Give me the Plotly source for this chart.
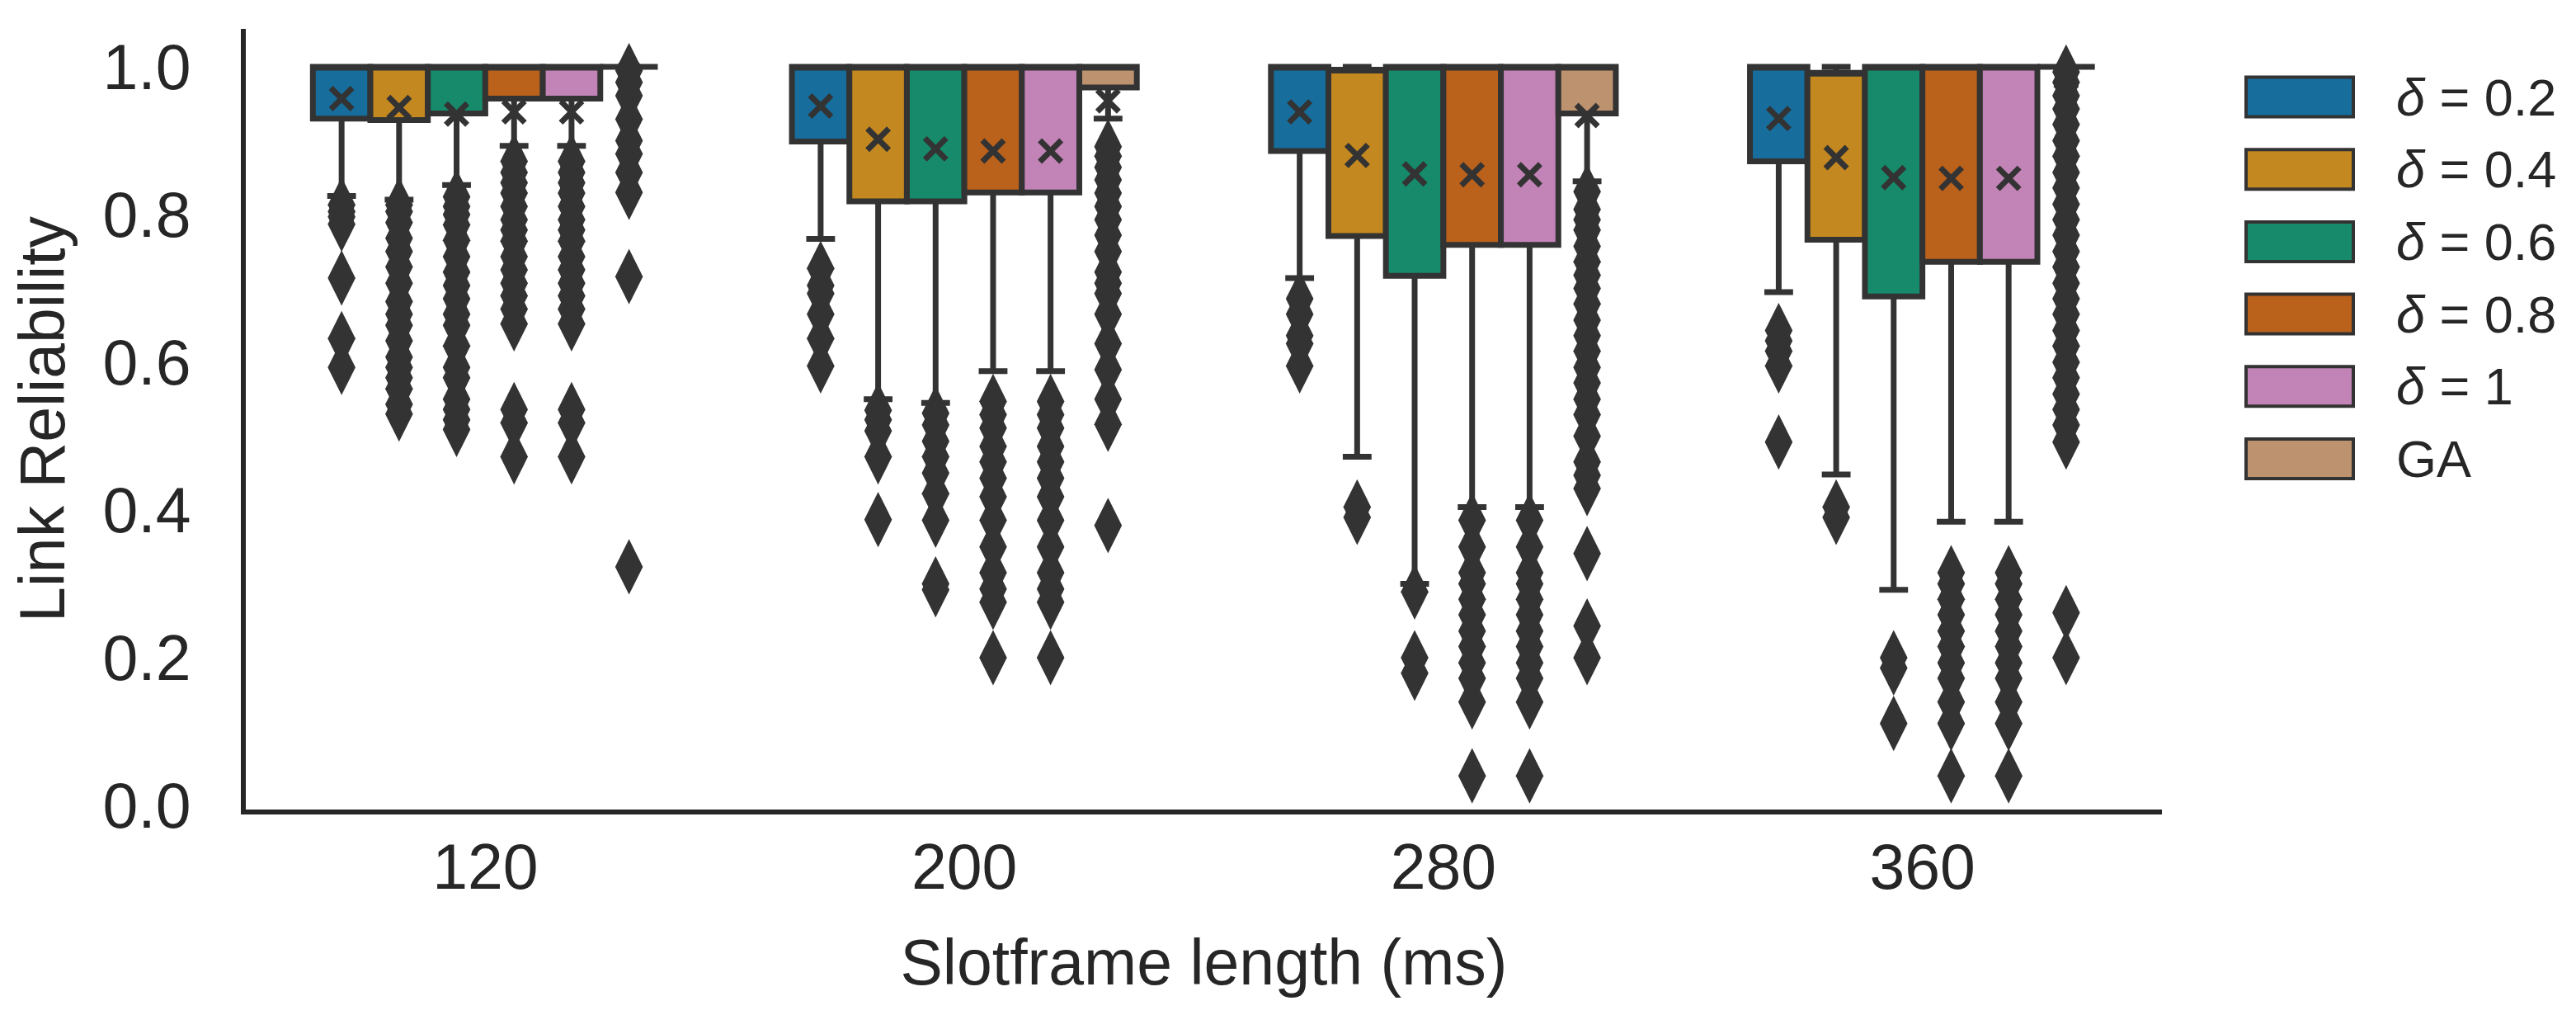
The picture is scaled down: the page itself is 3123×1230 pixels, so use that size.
import plotly.graph_objects as go

# ---------------- data ----------------
categories = ["120", "200", "280", "360"]
hue_names = ["<i>δ</i> = 0.2", "<i>δ</i> = 0.4", "<i>δ</i> = 0.6", "<i>δ</i> = 0.8", "<i>δ</i> = 1", "GA"]
hue_colors = ["#176d9c", "#c38820", "#168a6a", "#ba611b", "#c283b6", "#bd926e"]

# per hue: values for slotframe 120, 200, 280, 360
q3_d02 = [1.0, 1.0, 1.0, 1.0]
q3_d04 = [1.0, 1.0, 0.996, 0.992]
q3_d06 = [1.0, 1.0, 1.0, 1.0]
q3_d08 = [1.0, 1.0, 1.0, 1.0]
q3_d10 = [1.0, 1.0, 1.0, 1.0]
q3_ga = [1.0, 1.0, 1.0, 1.0]

median_d02 = [1.0, 1.0, 1.0, 1.0]
median_d04 = [1.0, 1.0, 0.996, 0.992]
median_d06 = [1.0, 1.0, 1.0, 1.0]
median_d08 = [1.0, 1.0, 1.0, 1.0]
median_d10 = [1.0, 1.0, 1.0, 1.0]
median_ga = [1.0, 1.0, 1.0, 1.0]

q1_d02 = [0.930, 0.899, 0.886, 0.872]
q1_d04 = [0.928, 0.818, 0.771, 0.766]
q1_d06 = [0.937, 0.818, 0.717, 0.689]
q1_d08 = [0.957, 0.830, 0.759, 0.736]
q1_d10 = [0.957, 0.830, 0.759, 0.736]
q1_ga = [1.0, 0.972, 0.937, 1.0]

lower_d02 = [0.825, 0.767, 0.714, 0.695]
lower_d04 = [0.820, 0.550, 0.472, 0.448]
lower_d06 = [0.840, 0.545, 0.300, 0.292]
lower_d08 = [0.893, 0.588, 0.404, 0.384]
lower_d10 = [0.893, 0.588, 0.404, 0.384]
lower_ga = [1.0, 0.930, 0.845, 1.0]

upper_d02 = [1.0, 1.0, 1.0, 1.0]
upper_d04 = [1.0, 1.0, 1.0, 1.0]
upper_d06 = [1.0, 1.0, 1.0, 1.0]
upper_d08 = [1.0, 1.0, 1.0, 1.0]
upper_d10 = [1.0, 1.0, 1.0, 1.0]
upper_ga = [1.0, 1.0, 1.0, 1.0]

mean_d02 = [0.957, 0.947, 0.939, 0.930]
mean_d04 = [0.945, 0.902, 0.880, 0.877]
mean_d06 = [0.936, 0.889, 0.855, 0.850]
mean_d08 = [0.939, 0.886, 0.854, 0.849]
mean_d10 = [0.939, 0.886, 0.854, 0.849]
mean_ga = [0.990, 0.954, 0.934, 0.985]

outliers_d02 = [
    [0.813, 0.804, 0.797, 0.787, 0.714, 0.632, 0.593],
    [0.727, 0.704, 0.693, 0.665, 0.632, 0.595],
    [0.686, 0.665, 0.636, 0.625, 0.595],
    [0.643, 0.629, 0.615, 0.595, 0.492],
]
outliers_d04 = [
    [0.813, 0.804, 0.789, 0.768, 0.750, 0.729, 0.707, 0.682, 0.665, 0.650, 0.629,
     0.607, 0.593, 0.579, 0.564, 0.543, 0.530],
    [0.535, 0.522, 0.507, 0.472, 0.387],
    [0.404, 0.390],
    [0.404, 0.390],
]
outliers_d06 = [
    [0.824, 0.811, 0.800, 0.786, 0.765, 0.743, 0.722, 0.704, 0.686, 0.665, 0.650,
     0.622, 0.593, 0.579, 0.550, 0.536, 0.522, 0.509],
    [0.531, 0.515, 0.493, 0.472, 0.450, 0.422, 0.386, 0.300, 0.292],
    [0.289, 0.200, 0.179],
    [0.200, 0.186, 0.111],
]
outliers_d08 = [
    [0.872, 0.857, 0.843, 0.829, 0.811, 0.793, 0.779, 0.764, 0.743, 0.725, 0.707,
     0.690, 0.672, 0.652, 0.536, 0.518, 0.472],
    [0.547, 0.529, 0.511, 0.486, 0.465, 0.443, 0.418, 0.386, 0.350, 0.315, 0.293,
     0.275, 0.200],
    [0.386, 0.350, 0.315, 0.300, 0.279, 0.258, 0.236, 0.215, 0.193, 0.172, 0.140, 0.040],
    [0.315, 0.300, 0.279, 0.258, 0.236, 0.215, 0.193, 0.172, 0.140, 0.111, 0.040],
]
outliers_d10 = [
    [0.872, 0.857, 0.843, 0.829, 0.811, 0.793, 0.779, 0.764, 0.743, 0.725, 0.707,
     0.690, 0.672, 0.652, 0.536, 0.518, 0.472],
    [0.547, 0.529, 0.511, 0.486, 0.465, 0.443, 0.418, 0.386, 0.350, 0.315, 0.293,
     0.275, 0.200],
    [0.386, 0.350, 0.315, 0.300, 0.279, 0.258, 0.236, 0.215, 0.193, 0.172, 0.140, 0.040],
    [0.315, 0.300, 0.279, 0.258, 0.236, 0.215, 0.193, 0.172, 0.140, 0.111, 0.040],
]
outliers_ga = [
    [0.995, 0.979, 0.961, 0.929, 0.900, 0.882, 0.857, 0.830, 0.716, 0.323],
    [0.892, 0.879, 0.864, 0.847, 0.829, 0.811, 0.793, 0.772, 0.750, 0.722, 0.707,
     0.693, 0.665, 0.625, 0.590, 0.550, 0.516, 0.379],
    [0.831, 0.807, 0.793, 0.779, 0.757, 0.736, 0.718, 0.700, 0.679, 0.657, 0.636,
     0.615, 0.593, 0.572, 0.550, 0.529, 0.500, 0.465, 0.447, 0.429, 0.341, 0.243, 0.200],
    [0.993, 0.979, 0.961, 0.943, 0.922, 0.900, 0.879, 0.857, 0.836, 0.814, 0.793,
     0.772, 0.750, 0.729, 0.707, 0.686, 0.665, 0.643, 0.622, 0.600, 0.579, 0.557,
     0.536, 0.515, 0.492, 0.261, 0.200],
]

y_ticks = [0.0, 0.2, 0.4, 0.6, 0.8, 1.0]

# ---------------- layout constants ----------------
PAGE_PAD = 8  # default <body> margin of the written page
W, H = 3123 - PAGE_PAD, 1230 - PAGE_PAD
PLOT_L, PLOT_R, PLOT_T, PLOT_B = 298 - PAGE_PAD, 2621 - PAGE_PAD, 35 - PAGE_PAD, 981 - PAGE_PAD
BOX_W = 0.12
LINE = "#333333"
TEXT = "#262626"
FONT = "Liberation Sans, Arial, sans-serif"

q1_all = [q1_d02, q1_d04, q1_d06, q1_d08, q1_d10, q1_ga]
med_all = [median_d02, median_d04, median_d06, median_d08, median_d10, median_ga]
q3_all = [q3_d02, q3_d04, q3_d06, q3_d08, q3_d10, q3_ga]
lo_all = [lower_d02, lower_d04, lower_d06, lower_d08, lower_d10, lower_ga]
up_all = [upper_d02, upper_d04, upper_d06, upper_d08, upper_d10, upper_ga]
mean_all = [mean_d02, mean_d04, mean_d06, mean_d08, mean_d10, mean_ga]
out_all = [outliers_d02, outliers_d04, outliers_d06, outliers_d08, outliers_d10, outliers_ga]

n_h = len(hue_names)
fig = go.Figure()

def positions(h):
    return [g + (h - (n_h - 1) / 2) * BOX_W for g in range(len(categories))]

for h in range(n_h):
    fig.add_trace(go.Box(
        x=positions(h), q1=q1_all[h], median=med_all[h], q3=q3_all[h],
        lowerfence=lo_all[h], upperfence=up_all[h],
        width=BOX_W, whiskerwidth=0.5, boxpoints=False,
        fillcolor=hue_colors[h], line=dict(color=LINE, width=7),
        name=hue_names[h], showlegend=False,
    ))

for h in range(n_h):
    pos = positions(h)
    ox, oy = [], []
    for g in range(len(categories)):
        ox += [pos[g]] * len(out_all[h][g])
        oy += out_all[h][g]
    fig.add_trace(go.Scatter(
        x=ox, y=oy, mode="markers", showlegend=False,
        marker=dict(symbol="diamond-tall", size=48, color=LINE, line=dict(width=0)),
    ))

for h in range(n_h):
    fig.add_trace(go.Scatter(
        x=positions(h), y=mean_all[h], mode="markers", showlegend=False,
        marker=dict(symbol="x-thin", size=26, color=LINE, line=dict(width=7, color=LINE)),
    ))

# manual legend (large patches as in the reference)
pw = PLOT_R - PLOT_L
ph = PLOT_B - PLOT_T
def px_x(px):
    return (px - PAGE_PAD - PLOT_L) / pw
def px_y(py):
    return (PLOT_B - (py - PAGE_PAD)) / ph

LEG_X0, LEG_X1, LEG_TX = 2723, 2853, 2903
LEG_Y0, LEG_DY, LEG_HH = 117.5, 87.7, 24
for h in range(n_h):
    cy = LEG_Y0 + h * LEG_DY
    fig.add_shape(type="rect", xref="paper", yref="paper",
                  x0=px_x(LEG_X0), x1=px_x(LEG_X1), y0=px_y(cy + LEG_HH), y1=px_y(cy - LEG_HH),
                  fillcolor=hue_colors[h], line=dict(color=LINE, width=4))
    fig.add_annotation(xref="paper", yref="paper", x=px_x(LEG_TX), y=px_y(cy),
                       text=hue_names[h], showarrow=False, xanchor="left", yanchor="middle",
                       font=dict(size=63, color=TEXT, family=FONT))

fig.update_layout(
    width=W, height=H,
    margin=dict(l=PLOT_L, r=W - PLOT_R, t=PLOT_T, b=H - PLOT_B, autoexpand=False),
    paper_bgcolor="white", plot_bgcolor="white",
    boxmode="overlay",
    font=dict(family=FONT, color=TEXT, size=77),
    xaxis=dict(
        range=[-0.5, len(categories) - 0.5],
        tickmode="array", tickvals=list(range(len(categories))), ticktext=categories,
        showgrid=False, zeroline=False, showline=True, linecolor=TEXT, linewidth=6,
        ticks="", ticklabelstandoff=-2,
        tickfont=dict(size=77, color=TEXT),
        title=dict(text="Slotframe length (ms)", font=dict(size=77, color=TEXT), standoff=49),
    ),
    yaxis=dict(
        range=[-0.0056, 1.0514],
        tickmode="array", tickvals=y_ticks, ticktext=[f"{v:.1f}" for v in y_ticks],
        showgrid=False, zeroline=False, showline=True, linecolor=TEXT, linewidth=6,
        ticks="outside", ticklen=45, tickcolor="rgba(0,0,0,0)",
        tickfont=dict(size=77, color=TEXT),
        title=dict(text="Link Reliability", font=dict(size=77, color=TEXT), standoff=26),
    ),
)

fig.write_html("out.html")
